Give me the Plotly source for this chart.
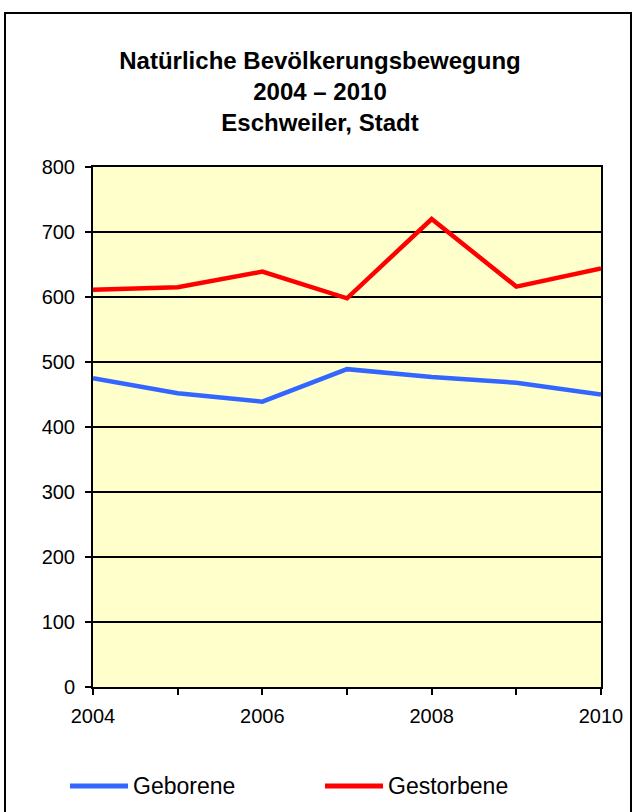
import plotly.graph_objects as go

years = [2004, 2005, 2006, 2007, 2008, 2009, 2010]
geborene = [475, 452, 439, 489, 477, 468, 450]
gestorbene = [611, 615, 639, 598, 720, 616, 644]
series_names = ["Geborene", "Gestorbene"]
series_colors = ["#3366FF", "#FF0000"]
x_tick_labels = ["2004", "", "2006", "", "2008", "", "2010"]
y_ticks = [0, 100, 200, 300, 400, 500, 600, 700, 800]

FONT = "Liberation Sans, Arial, sans-serif"

W, H = 635, 812
ml, mr, mt, mb = 93, 34, 167, 125
pw, ph = W - ml - mr, H - mt - mb


def px_x(px):
    return (px - ml) / pw


def px_y(py):
    return (H - mb - py) / ph


fig = go.Figure()
for name, vals, col in zip(series_names, [geborene, gestorbene], series_colors):
    fig.add_trace(go.Scatter(x=years, y=vals, mode="lines", name=name,
                             line=dict(color=col, width=4.5), showlegend=False))

# custom legend (longer line samples, as in the reference)
shapes = []
annotations = []
legend_x = [70, 325]
legend_y = 786
for name, col, lx in zip(series_names, series_colors, legend_x):
    shapes.append(dict(type="line", xref="paper", yref="paper",
                       x0=px_x(lx), x1=px_x(lx + 58), y0=px_y(legend_y), y1=px_y(legend_y),
                       line=dict(color=col, width=5)))
    annotations.append(dict(xref="paper", yref="paper", x=px_x(lx + 61), y=px_y(legend_y),
                            xanchor="left", yanchor="middle", showarrow=False, text=name,
                            font=dict(family=FONT, size=23, color="black")))

# outer chart border
shapes.append(dict(type="rect", xref="paper", yref="paper",
                   x0=px_x(5), x1=px_x(631), y0=px_y(830), y1=px_y(13),
                   line=dict(color="black", width=2), fillcolor="rgba(0,0,0,0)",
                   layer="below"))

fig.update_layout(
    width=W, height=H,
    margin=dict(l=ml, r=mr, t=mt, b=mb),
    paper_bgcolor="white",
    plot_bgcolor="#FFFFCC",
    font=dict(family=FONT, size=20, color="black"),
    title=dict(
        text="<b>Natürliche Bevölkerungsbewegung<br>2004 – 2010<br>Eschweiler, Stadt</b>",
        x=px_x(320), xanchor="center", xref="paper", y=1 - 69 / H, yanchor="top",
        font=dict(family=FONT, size=24, color="black"),
    ),
    xaxis=dict(
        range=[2004, 2010], tickvals=years, ticktext=x_tick_labels,
        ticks="outside", ticklen=6, tickwidth=2, tickcolor="black",
        showline=True, linewidth=2, linecolor="black", mirror=True,
        showgrid=False, zeroline=False, ticklabelstandoff=4,
        tickfont=dict(family=FONT, size=20, color="black"),
    ),
    yaxis=dict(
        range=[0, 800], tickvals=y_ticks,
        ticks="outside", ticklen=6, tickwidth=2, tickcolor="black",
        showline=True, linewidth=2, linecolor="black", mirror=True,
        showgrid=True, gridcolor="black", gridwidth=2, zeroline=False,
        ticklabelstandoff=6,
        tickfont=dict(family=FONT, size=20, color="black"),
    ),
    showlegend=False,
    shapes=shapes,
    annotations=annotations,
)

fig.write_html("out.html", config={"displayModeBar": False},
               post_script="document.body.style.margin='0';document.body.style.overflow='hidden';")
